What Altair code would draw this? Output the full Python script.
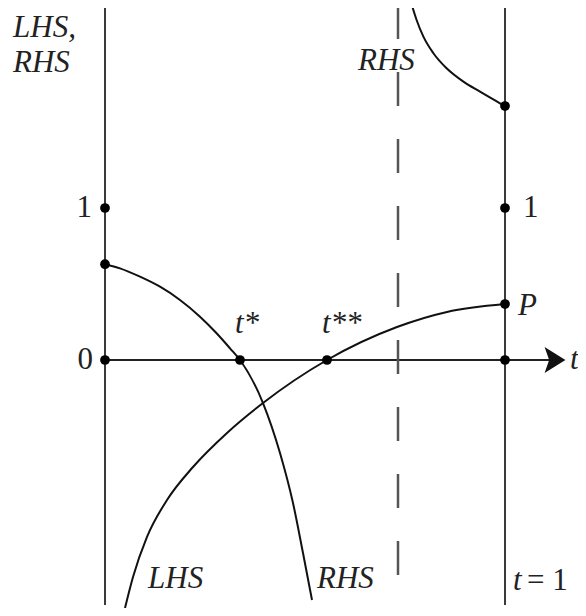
import altair as alt
import pandas as pd

# ---- data (t on horizontal, value on vertical) ----
rhs_low_t = [0.0, 0.0375, 0.0875, 0.1375, 0.1875, 0.2375, 0.279, 0.3125, 0.3375,
             0.395, 0.4375, 0.47, 0.495, 0.5175]
rhs_low_v = [0.630, 0.603, 0.548, 0.482, 0.395, 0.285, 0.176, 0.077, 0.0,
             -0.283, -0.612, -0.941, -1.270, -1.579]

lhs_t = [0.05, 0.07, 0.105, 0.155, 0.22, 0.305, 0.395, 0.555, 0.73, 0.855, 1.0]
lhs_v = [-1.632, -1.428, -1.164, -0.921, -0.704, -0.480, -0.283, 0.0, 0.217, 0.316, 0.368]

rhs_up_t = [0.767, 0.779, 0.796, 0.821, 0.854, 0.896, 0.9375, 0.9875, 1.0]
rhs_up_v = [2.336, 2.237, 2.127, 2.018, 1.919, 1.831, 1.765, 1.689, 1.671]

dot_t = [0.0, 0.0, 0.0, 0.3375, 0.555, 1.0, 1.0, 1.0, 1.0]
dot_v = [1.0, 0.0, 0.630, 0.0, 0.0, 0.368, 1.0, 0.0, 1.671]

asymptote_t = 0.7325
vline_t = [0.0, 1.0]
line_top, line_bottom = 2.336, -1.612
dash_bottom = -1.42
axis_end = 1.1375

label_text = ["LHS,", "RHS", "RHS", "t*", "t**", "P", "LHS", "RHS", "t"]
label_t = [-0.23, -0.23, 0.6325, 0.325, 0.5425, 1.0325, 0.1075, 0.53, 1.02]
label_v = [2.125, 1.895, 1.908, 0.178, 0.178, 0.296, -1.5, -1.5, -1.513]

num_text = ["1", "0", "1"]
num_t = [-0.0325, -0.03, 1.045]
num_v = [1.0, 0.0, 1.0]
num_align = ["right", "right", "left"]

eq_text = ["= 1"]
eq_t = [1.055]
eq_v = [-1.513]

t_axis_label = ["t"]
t_axis_t = [1.1625]
t_axis_v = [0.0]

# ---- scales ----
xs = alt.Scale(domain=[-0.2425, 1.1825], nice=False, zero=False)
ys = alt.Scale(domain=[-1.6316, 2.3158], nice=False, zero=False)
X = lambda f: alt.X(f, type="quantitative", scale=xs, axis=None)
Y = lambda f: alt.Y(f, type="quantitative", scale=ys, axis=None)

FS = 31
font = "Liberation Serif"

curves = pd.DataFrame(
    {"t": rhs_low_t + lhs_t + rhs_up_t,
     "v": rhs_low_v + lhs_v + rhs_up_v,
     "s": ["rhs_low"] * len(rhs_low_t) + ["lhs"] * len(lhs_t) + ["rhs_up"] * len(rhs_up_t)}
)
curve_layer = alt.Chart(curves).mark_line(
    color="#111", strokeWidth=2, interpolate="monotone", clip=False
).encode(x=X("t"), y=Y("v"), detail="s:N")

vl = pd.DataFrame({"t": vline_t, "top": [line_top] * 2, "bot": [line_bottom] * 2})
vline_layer = alt.Chart(vl).mark_rule(color="#3a3a3a", strokeWidth=2).encode(
    x=X("t"), y=Y("top"), y2="bot"
)

hl = pd.DataFrame({"a": [0.0], "b": [axis_end], "v": [0.0]})
hline_layer = alt.Chart(hl).mark_rule(color="#222", strokeWidth=2).encode(
    x=X("a"), x2="b", y=Y("v")
)

dl = pd.DataFrame({"t": [asymptote_t], "top": [line_top], "bot": [dash_bottom]})
dash_layer = alt.Chart(dl).mark_rule(
    color="#555", strokeWidth=2.5, strokeDash=[34, 33]
).encode(x=X("t"), y=Y("top"), y2="bot")

arrow = pd.DataFrame({"t": [axis_end], "v": [0.0]})
arrow_layer = alt.Chart(arrow).mark_point(
    shape="M 0.8 0 L -0.8 -1 L -0.45 0 L -0.8 1 Z",
    filled=True, color="#111", size=676, opacity=1, xOffset=-5,
).encode(x=X("t"), y=Y("v"))

dots = pd.DataFrame({"t": dot_t, "v": dot_v})
dot_layer = alt.Chart(dots).mark_circle(color="#000", size=95, opacity=1).encode(
    x=X("t"), y=Y("v")
)

lab = pd.DataFrame({"txt": label_text, "t": label_t, "v": label_v})
label_layer = alt.Chart(lab).mark_text(
    font=font, fontStyle="italic", fontSize=FS, align="left",
    baseline="alphabetic", color="#222"
).encode(x=X("t"), y=Y("v"), text="txt:N")

nums = pd.DataFrame({"txt": num_text, "t": num_t, "v": num_v, "al": num_align})
num_left = alt.Chart(nums[nums.al == "right"]).mark_text(
    font=font, fontSize=FS, align="right", baseline="middle", color="#222"
).encode(x=X("t"), y=Y("v"), text="txt:N")
num_right = alt.Chart(nums[nums.al == "left"]).mark_text(
    font=font, fontSize=FS, align="left", baseline="middle", color="#222"
).encode(x=X("t"), y=Y("v"), text="txt:N")

eq = pd.DataFrame({"txt": eq_text, "t": eq_t, "v": eq_v})
eq_layer = alt.Chart(eq).mark_text(
    font=font, fontSize=FS, align="left", baseline="alphabetic", color="#222"
).encode(x=X("t"), y=Y("v"), text="txt:N")

ta = pd.DataFrame({"txt": t_axis_label, "t": t_axis_t, "v": t_axis_v})
ta_layer = alt.Chart(ta).mark_text(
    font=font, fontStyle="italic", fontSize=FS, align="left", baseline="middle", color="#222"
).encode(x=X("t"), y=Y("v"), text="txt:N")

chart = alt.layer(
    vline_layer, hline_layer, dash_layer, curve_layer, arrow_layer, dot_layer,
    label_layer, num_left, num_right, eq_layer, ta_layer
).properties(
    width=570, height=600, padding=0, autosize="none", background="white"
).configure_view(stroke=None)

chart.save("out.html", embed_options={"renderer": "svg", "actions": False})
